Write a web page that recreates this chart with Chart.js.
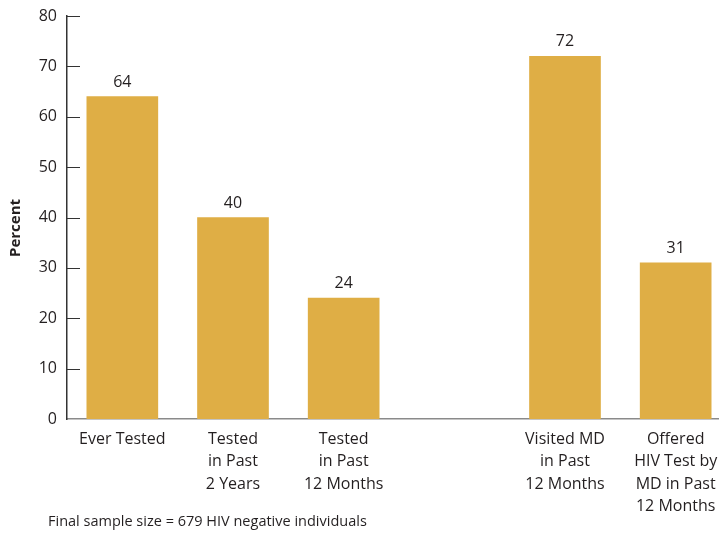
<!DOCTYPE html>
<html>
<head>
<meta charset="utf-8">
<script src="https://cdn.jsdelivr.net/npm/chart.js@4"></script>
<style>
  html, body { margin: 0; padding: 0; background: #fff; overflow: hidden; }
  #wrap { width: 731px; height: 533px; }
</style>
</head>
<body>
<div id="wrap"><canvas id="grafico" width="731" height="533"></canvas></div>
<script>
// categorias (a vazia separa os dois grupos)
const categorias = [
  ["Ever Tested"],
  ["Tested", "in Past", "2 Years"],
  ["Tested", "in Past", "12 Months"],
  [""],
  ["Visited MD", "in Past", "12 Months"],
  ["Offered", "HIV Test by", "MD in Past", "12 Months"]
];
const percentuais = [64, 40, 24, null, 72, 31];
const marcasY = [0, 10, 20, 30, 40, 50, 60, 70, 80];
const rodape = "Final sample size = 679 HIV negative individuals";

const fonte = "'Open Sans', 'Liberation Sans', sans-serif";
const corTexto = "#231f20";

// rótulos de valor acima das barras
const rotulosValor = {
  id: "rotulosValor",
  afterDatasetsDraw(chart) {
    const c = chart.ctx;
    const meta = chart.getDatasetMeta(0);
    c.save();
    c.font = "16px " + fonte;
    c.fillStyle = corTexto;
    c.textAlign = "center";
    c.textBaseline = "alphabetic";
    meta.data.forEach((barra, i) => {
      const v = percentuais[i];
      if (v == null) return;
      c.fillText(String(v), barra.x, barra.y - 10);
    });
    c.restore();
  }
};

// marcas do eixo Y voltadas para dentro, título e rodapé
const extras = {
  id: "extras",
  afterDraw(chart) {
    const c = chart.ctx;
    const y = chart.scales.y;
    const area = chart.chartArea;
    c.save();
    c.strokeStyle = "#333";
    c.lineWidth = 1;
    marcasY.forEach(m => {
      if (m === 0) return;
      const py = Math.round(y.getPixelForValue(m)) + 0.5;
      c.beginPath();
      c.moveTo(area.left, py);
      c.lineTo(area.left + 13, py);
      c.stroke();
    });

    c.fillStyle = corTexto;
    c.font = "bold 15px " + fonte;
    c.textAlign = "center";
    c.textBaseline = "middle";
    c.translate(16, 228);
    c.rotate(-Math.PI / 2);
    c.fillText("Percent", 0, 0);
    c.restore();

    c.save();
    c.fillStyle = corTexto;
    c.font = "14.5px " + fonte;
    c.textAlign = "left";
    c.textBaseline = "middle";
    c.fillText(rodape, 48, 522);
    c.restore();
  }
};

new Chart(document.getElementById("grafico").getContext("2d"), {
  type: "bar",
  data: {
    labels: categorias,
    datasets: [{
      data: percentuais,
      backgroundColor: "#dfae45",
      barThickness: 71
    }]
  },
  options: {
    responsive: false,
    animation: false,
    layout: { padding: { top: 16, right: 0, left: 0, bottom: 0 } },
    plugins: {
      legend: { display: false },
      tooltip: { enabled: false }
    },
    scales: {
      x: {
        grid: { display: false, drawTicks: false },
        border: { display: true, color: "#8a8a8a", width: 1.5 },
        ticks: {
          color: corTexto,
          font: { family: fonte, size: 16, lineHeight: 1.4 },
          padding: 9,
          maxRotation: 0,
          autoSkip: false
        },
        afterFit(scale) { scale.height = 114; }
      },
      y: {
        min: 0,
        max: 80,
        grid: { display: false, drawTicks: false },
        border: { display: true, color: "#333", width: 1.5 },
        ticks: {
          stepSize: 10,
          color: corTexto,
          font: { family: fonte, size: 16 },
          padding: 10
        },
        afterFit(scale) {
          scale.width = 67;
          scale.paddingTop = 0;
          scale.paddingBottom = 0;
        }
      }
    }
  },
  plugins: [rotulosValor, extras]
});
</script>
</body>
</html>
